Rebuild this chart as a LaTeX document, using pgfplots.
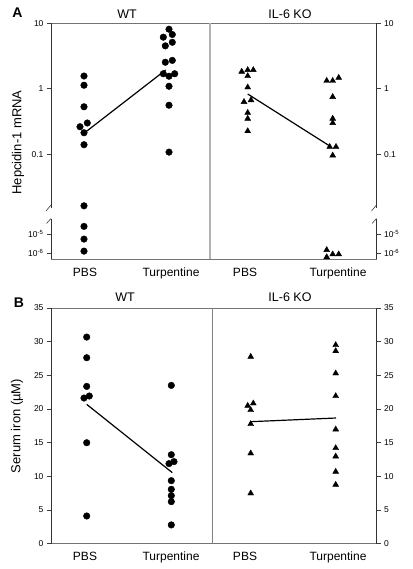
\documentclass[border=0pt]{standalone}
\usepackage{fontspec}
\setmainfont{Liberation Sans}
\usepackage{pgfplots}
\pgfplotsset{compat=1.18}
\usepackage{pgfplotstable}

% Panel A: hepcidin-1 mRNA (x = horizontal position, v = value)
\pgfplotstableread{
x v
33 1.56
33 1.13
33 0.53
29 0.263
36.3 0.30
33 0.213
33 0.14
33 0.0164
33 2.6e-5
33 5.6e-6
33 1.3e-6
118 8.07
112.3 6.1
121.3 6.7
121.3 5.1
114.3 4.5
114.3 2.53
121.3 2.7
112.3 1.69
118 1.55
123.7 1.69
118 1.09
118 0.56
118 0.108
}\wtA
\pgfplotstableread{
x v
190.7 1.82
196.7 1.93
202.3 1.93
196.7 1.56
196.7 1.05
193 0.63
200 0.67
196.7 0.43
196.7 0.35
196.7 0.226
275.7 1.32
281.7 1.32
287.7 1.47
281.7 0.75
281.7 0.35
281.7 0.30
278.7 0.13
285 0.13
281.7 0.096
275.7 1.5e-6
275.7 6.3e-7
281.7 8.9e-7
287.7 8.9e-7
}\koA
\pgfplotstableread{
x v
35 0.221
114.7 1.93
}\wtAline
\pgfplotstableread{
x v
196.7 0.83
279 0.133
}\koAline
% Panel B: serum iron
\pgfplotstableread{
x v
35.7 30.68
35.7 27.61
35.7 23.35
33 21.62
38.3 21.92
35.7 14.98
35.7 4.09
120.3 23.5
120.3 13.2
118 11.87
123 12.17
120.3 9.34
120.3 8.05
120.3 7.11
120.3 6.22
120.3 2.76
}\wtB
\pgfplotstableread{
x v
199.7 27.76
196.7 20.48
202.3 20.83
199.7 19.84
199.7 17.76
199.7 13.4
199.7 7.46
284.7 29.5
284.7 28.6
284.7 25.29
284.7 21.92
284.7 16.96
284.7 14.19
284.7 12.95
284.7 10.67
284.7 8.74
}\koB
\pgfplotstableread{
x v
35.7 20.68
121.3 10.53
}\wtBline
\pgfplotstableread{
x v
199 18.1
285 18.65
}\koBline

\pgfplotsset{
  base/.style={
    scale only axis, width=325.5pt, xmin=0, xmax=325.5,
    tick align=outside, major tick length=4pt,
    tick style={black!75, line width=0.5pt},
    yticklabel style={font=\fontsize{8.5}{10}\selectfont},
    xticklabel style={font=\fontsize{12}{14}\selectfont, yshift=-1pt},
  },
  main/.style={base,
    separate axis lines,
    x axis line style={black!55, line width=0.7pt},
    y axis line style={black!80, line width=0.7pt},
    ytick pos=left,
    xtick={34,120,194,287},
    xticklabels={PBS,Turpentine,PBS,Turpentine},
    x tick style={draw=none},
  },
  rightax/.style={base,
    hide x axis, axis y line*=right,
    y axis line style={black!80, line width=0.7pt},
    yticklabel pos=right, ytick pos=right,
  },
}

\begin{document}
\begin{tikzpicture}
\path[use as bounding box] (-51pt,259.5pt) rectangle (361pt,-309.5pt);

% ---------------- Panel A ----------------
\begin{axis}[main, at={(0pt,0pt)}, anchor=south west,
  height=236.5pt, ymin=0, ymax=236.5,
  ytick={6.2,25.2,105.2,170.8,236.4},
  yticklabels={10\textsuperscript{-6},10\textsuperscript{-5},0.1,1,10},
  declare function={ym(\v)=(ln(\v)/ln(10)>-3) ? 170.8+65.6*ln(\v)/ln(10) : 25.2+19*(ln(\v)/ln(10)+5);}]
\draw[black!30, line width=1.6pt] (axis cs:159,0) -- (axis cs:159,236.5);
\addplot[only marks, mark=*, mark size=3.3pt, black] table[x=x, y expr={ym(\thisrow{v})}] {\wtA};
\addplot[only marks, mark=triangle*, mark size=3.4pt, black] table[x=x, y expr={ym(\thisrow{v})}] {\koA};
\addplot[black, line width=1.2pt, no marks] table[x=x, y expr={ym(\thisrow{v})}] {\wtAline};
\addplot[black, line width=1.2pt, no marks] table[x=x, y expr={ym(\thisrow{v})}] {\koAline};
\end{axis}
\begin{axis}[rightax, at={(0pt,0pt)}, anchor=south west,
  height=236.5pt, ymin=0, ymax=236.5,
  ytick={6.2,25.2,105.2,170.8,236.4},
  yticklabels={10\textsuperscript{-6},10\textsuperscript{-5},0.1,1,10}]
\end{axis}
% axis breaks
\fill[white] (-1.5pt,40.5pt) rectangle (1.5pt,51.5pt);
\fill[white] (324pt,40.5pt) rectangle (327pt,51.5pt);
\draw[black!75, line width=0.6pt] (0pt,54.5pt) -- (-5pt,48.5pt) (0pt,41pt) -- (-4.5pt,36pt);
\draw[black!75, line width=0.6pt] (325.5pt,54.5pt) -- (320.5pt,48.5pt) (325.5pt,41pt) -- (321pt,36pt);
\node[font=\fontsize{12.5}{14}\selectfont] at (76pt,245.5pt) {WT};
\node[font=\fontsize{12.5}{14}\selectfont] at (239pt,245.5pt) {IL-6 KO};
\node[font=\fontsize{14}{16}\selectfont\bfseries] at (-33.5pt,246.5pt) {A};
\node[rotate=90, font=\fontsize{13}{15}\selectfont] at (-33pt,117pt) {Hepcidin-1 mRNA};

% ---------------- Panel B ----------------
\begin{axis}[main, at={(0pt,-284pt)}, anchor=south west,
  height=235.5pt, ymin=0, ymax=35,
  ytick={0,5,10,15,20,25,30,35},
  yticklabels={0,5,10,15,20,25,30,35}]
\draw[black!50, line width=0.7pt] (axis cs:161.7,0) -- (axis cs:161.7,35);
\addplot[only marks, mark=*, mark size=3.3pt, black] table[x=x, y=v] {\wtB};
\addplot[only marks, mark=triangle*, mark size=3.4pt, black] table[x=x, y=v] {\koB};
\addplot[black, line width=1.2pt, no marks] table[x=x, y=v] {\wtBline};
\addplot[black, line width=1.2pt, no marks] table[x=x, y=v] {\koBline};
\end{axis}
\begin{axis}[rightax, at={(0pt,-284pt)}, anchor=south west,
  height=235.5pt, ymin=0, ymax=35,
  ytick={0,5,10,15,20,25,30,35},
  yticklabels={0,5,10,15,20,25,30,35}]
\end{axis}
\node[font=\fontsize{12.5}{14}\selectfont] at (74pt,-38pt) {WT};
\node[font=\fontsize{12.5}{14}\selectfont] at (239pt,-38pt) {IL-6 KO};
\node[font=\fontsize{14}{16}\selectfont\bfseries] at (-32pt,-43.2pt) {B};
\node[rotate=90, font=\fontsize{13}{15}\selectfont] at (-34pt,-166.5pt) {Serum iron (µM)};
\end{tikzpicture}
\end{document}
